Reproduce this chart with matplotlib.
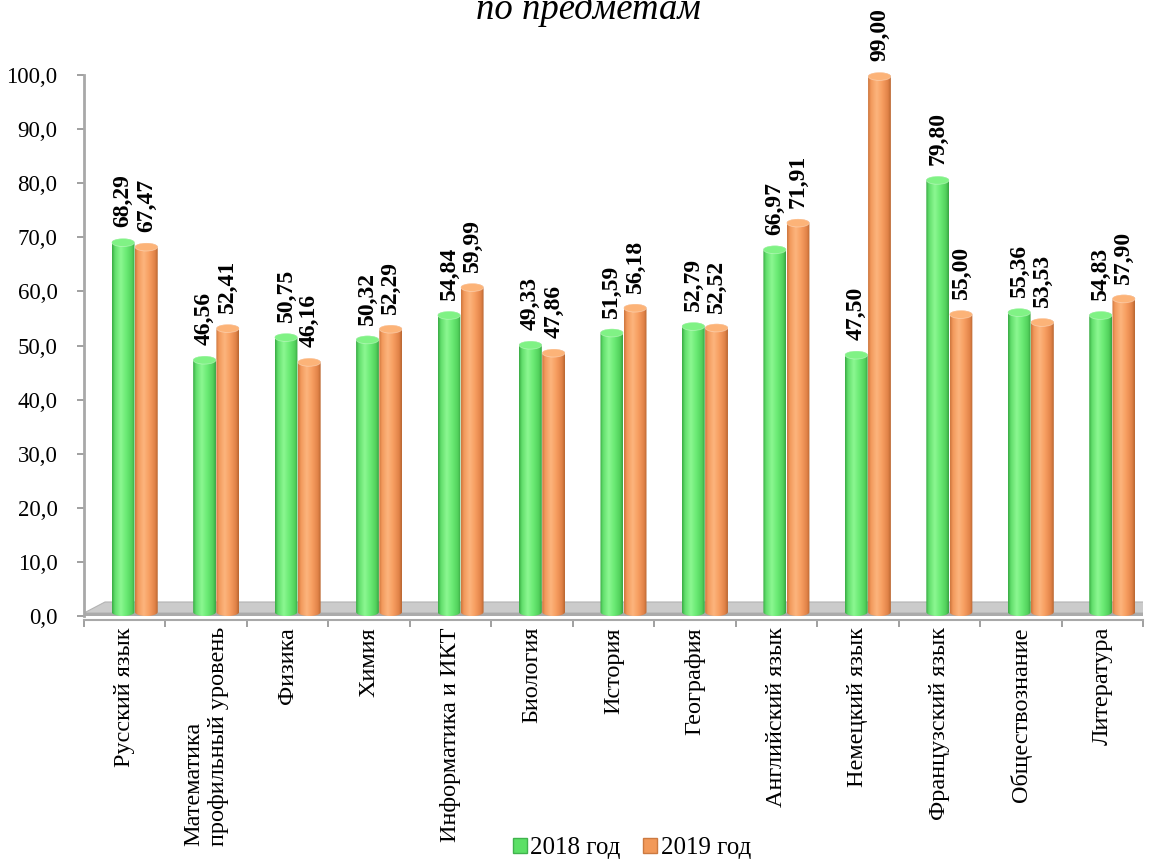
import numpy as np
import matplotlib
matplotlib.use("Agg")
import matplotlib.pyplot as plt
from matplotlib.patches import Polygon, Ellipse, Patch, PathPatch
from matplotlib.path import Path
from matplotlib.colors import LinearSegmentedColormap
from matplotlib.ticker import FuncFormatter

categories = ["Русский язык", "Математика\nпрофильный уровень", "Физика", "Химия",
              "Информатика и ИКТ", "Биология", "История", "География",
              "Английский язык", "Немецкий язык", "Французский язык",
              "Обществознание", "Литература"]
values_2018 = [68.29, 46.56, 50.75, 50.32, 54.84, 49.33, 51.59, 52.79, 66.97, 47.50, 79.80, 55.36, 54.83]
values_2019 = [67.47, 52.41, 46.16, 52.29, 59.99, 47.86, 56.18, 52.52, 71.91, 99.00, 55.00, 53.53, 57.90]
series_names = ["2018 год", "2019 год"]
y_ticks = [0, 10, 20, 30, 40, 50, 60, 70, 80, 90, 100]
title_text = "по предметам"

plt.rcParams['font.family'] = ['Liberation Serif', 'DejaVu Serif']

W, H = 1154, 861
fig = plt.figure(figsize=(W / 100, H / 100), dpi=100)

px_y0, px_y100 = 616, 75
ppu_y = (px_y0 - px_y100) / 100.0
x_left, x_right = 84, 1143
ymax = 102
top_px = px_y0 - ymax * ppu_y
ax = fig.add_axes([x_left / W, 1 - px_y0 / H, (x_right - x_left) / W, (px_y0 - top_px) / H])
ax.set_xlim(-0.5, len(categories) - 0.5)
ax.set_ylim(0, ymax)
ppu_x = (x_right - x_left) / len(categories)

# floor
fy_front = 3.0 / ppu_y
fy_back = 14.0 / ppu_y
n = len(categories)
floor_top = Polygon([(-0.5, fy_front), (n - 0.5, fy_front),
                     (n - 0.5 + 9 / ppu_x, fy_back), (-0.5 + 21 / ppu_x, fy_back)],
                    closed=True, facecolor='#cbcbcb', edgecolor='#b3b3b3', lw=0.8, zorder=1)
floor_front = Polygon([(-0.5, 0), (n - 0.5, 0), (n - 0.5, fy_front), (-0.5, fy_front)],
                      closed=True, facecolor='#ababab', edgecolor='none', zorder=1)
floor_side = Polygon([(n - 0.5, 0), (n - 0.5, fy_front), (n - 0.5 + 9 / ppu_x, fy_back),
                      (n - 0.5 + 9 / ppu_x, fy_back - fy_front)],
                     closed=True, facecolor='#b8b8b8', edgecolor='none', zorder=1)
for p in (floor_top, floor_front, floor_side):
    ax.add_patch(p)

green_cmap = LinearSegmentedColormap.from_list("g", [
    (0.0, (0.22, 0.66, 0.26)), (0.12, (0.38, 0.87, 0.42)), (0.38, (0.55, 0.97, 0.57)),
    (0.62, (0.42, 0.92, 0.46)), (0.88, (0.32, 0.82, 0.36)), (1.0, (0.22, 0.64, 0.26))])
orange_cmap = LinearSegmentedColormap.from_list("o", [
    (0.0, (0.80, 0.46, 0.24)), (0.12, (0.95, 0.60, 0.36)), (0.38, (0.99, 0.71, 0.49)),
    (0.62, (0.97, 0.62, 0.38)), (0.88, (0.88, 0.51, 0.28)), (1.0, (0.72, 0.40, 0.19))])
cap_colors = [(0.50, 0.95, 0.52), (0.99, 0.70, 0.47)]
cmaps = [green_cmap, orange_cmap]

bw = 0.28
offsets = [-0.02, 0.265]
dy = 4.0 / ppu_y
eh = 4.0 / ppu_y
grad = np.linspace(0, 1, 64).reshape(1, -1)

def cylinder(xc, v, cmap, capc):
    y0 = dy
    y1 = v + dy
    x0, x1 = xc - bw / 2, xc + bw / 2
    t_bot = np.linspace(np.pi, 2 * np.pi, 40)
    t_top = np.linspace(0, np.pi, 40)
    verts = [(x0, y1), (x0, y0)]
    verts += [(xc + bw / 2 * np.cos(t), y0 + eh * np.sin(t)) for t in t_bot]
    verts += [(x1, y1)]
    verts += [(xc + bw / 2 * np.cos(t), y1 + eh * np.sin(t)) for t in t_top]
    verts.append(verts[0])
    path = Path(verts)
    clip = PathPatch(path, transform=ax.transData, facecolor='none', edgecolor='none')
    im = ax.imshow(grad, cmap=cmap, extent=(x0, x1, y0 - eh, y1 + eh), aspect='auto',
                   interpolation='bicubic', zorder=2)
    im.set_clip_path(clip)
    cap = Ellipse((xc, y1), bw, 2 * eh, facecolor=capc, edgecolor=(1, 1, 1, 0.35),
                  lw=0.6, zorder=3, clip_on=False)
    ax.add_patch(cap)
    return y1 + eh

for s, vals in enumerate([values_2018, values_2019]):
    for i, v in enumerate(vals):
        xc = i + offsets[s]
        top = cylinder(xc, v, cmaps[s], cap_colors[s])
        ax.annotate(f"{v:.2f}".replace('.', ','), (xc, top), xytext=(0, 8),
                    textcoords='offset points', rotation=90, ha='center', va='bottom',
                    fontsize=17, fontweight='bold', annotation_clip=False, zorder=5)

ax.set_xlim(-0.5, n - 0.5)
ax.set_ylim(0, ymax)
ax.set_aspect('auto')

for sp in ('top', 'right'):
    ax.spines[sp].set_visible(False)
ax.spines['left'].set_bounds(0, 100)
ax.spines['left'].set_color('#a8a8a8')
ax.spines['left'].set_linewidth(2.0)
ax.spines['bottom'].set_color('#a8a8a8')
ax.spines['bottom'].set_linewidth(1.5)
ax.spines['bottom'].set_position(('outward', 3))

ax.set_yticks(y_ticks)
ax.yaxis.set_major_formatter(FuncFormatter(lambda v, p: f"{v:.1f}".replace('.', ',')))
ax.tick_params(axis='y', direction='out', length=5, width=1.2, color='#909090',
               labelsize=16.5, pad=14)

ax.set_xticks(np.arange(-0.5, n, 1.0))
ax.set_xticklabels([])
ax.tick_params(axis='x', which='major', direction='out', length=5, width=1.2, color='#909090')
ax.set_xticks(np.arange(n), minor=True)
ax.set_xticklabels(categories, minor=True, rotation=90, fontsize=17.5, ha='center', va='top',
                   multialignment='left')
ax.tick_params(axis='x', which='minor', length=0, pad=5)

handles = [Patch(facecolor=(0.36, 0.88, 0.40), edgecolor=(0.25, 0.7, 0.3)),
           Patch(facecolor=(0.95, 0.60, 0.35), edgecolor=(0.8, 0.48, 0.25))]
fig.legend(handles, series_names, loc='center', bbox_to_anchor=(632 / W, 1 - 848 / H),
           ncol=2, frameon=False, fontsize=18, handlelength=0.55, handleheight=0.55,
           handletextpad=0.15, columnspacing=0.9, borderaxespad=0, borderpad=0)

fig.text(588 / W, 1 - 19 / H, title_text, ha='center', va='baseline', fontsize=26.5,
         style='italic')

fig.savefig("out.png", dpi=100)
